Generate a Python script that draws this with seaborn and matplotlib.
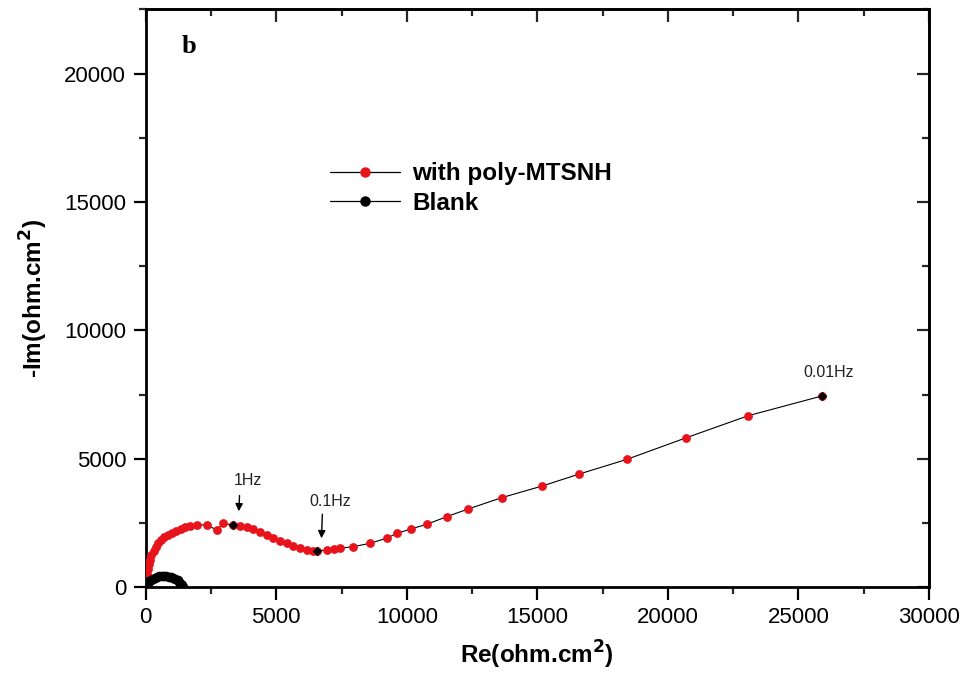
import matplotlib

matplotlib.use("Agg")
import matplotlib.pyplot as plt
import pandas as pd
import seaborn as sns
from matplotlib.lines import Line2D
from matplotlib.ticker import AutoMinorLocator, MultipleLocator

# Nyquist data (ohm.cm2)
poly_re = [20, 40, 70, 110, 160, 220, 300, 390, 490, 600, 720, 860, 1010, 1170,
           1340, 1520, 1700, 1950, 2340, 2720, 2970, 3360, 3620, 3870, 4120,
           4380, 4630, 4890, 5150, 5400, 5650, 5910, 6180, 6400, 6570, 6930,
           7200, 7440, 7950, 8590, 9230, 9620, 10160, 10790, 11530, 12360,
           13640, 15180, 16610, 18430, 20700, 23080, 25910]
poly_im = [300, 500, 700, 900, 1080, 1250, 1420, 1570, 1710, 1830, 1940, 2040,
           2130, 2210, 2280, 2340, 2380, 2420, 2430, 2230, 2490, 2420, 2400,
           2360, 2270, 2160, 2040, 1910, 1800, 1710, 1610, 1520, 1460, 1430,
           1420, 1450, 1480, 1520, 1580, 1710, 1910, 2100, 2270, 2460, 2750,
           3050, 3490, 3940, 4410, 4980, 5820, 6680, 7450]

blank_re = [20, 50, 90, 140, 200, 270, 350, 430, 520, 610, 700, 790, 880, 970,
            1060, 1140, 1220, 1290, 1350, 1400, 1430]
blank_im = [40, 110, 170, 230, 290, 340, 380, 405, 425, 435, 438, 432, 418,
            395, 360, 320, 265, 200, 135, 70, 15]

# frequency markers on the poly-MTSNH curve
freq_labels = ["1Hz", "0.1Hz", "0.01Hz"]
freq_idx = [21, 34, 52]

sns.set_theme(style="ticks")
plt.rcParams["font.family"] = ["Liberation Sans", "DejaVu Sans"]
plt.rcParams["text.color"] = "black"
plt.rcParams["axes.labelcolor"] = "black"

poly = pd.DataFrame({"re": poly_re, "im": poly_im})
blank = pd.DataFrame({"re": blank_re, "im": blank_im})
marks = poly.iloc[freq_idx]

fig = plt.figure(figsize=(9.66, 6.88), dpi=100)
ax = fig.add_axes([0.1508, 0.1464, 0.8109, 0.8401])

sns.lineplot(data=poly, x="re", y="im", sort=False, estimator=None,
             color="black", lw=0.8, ax=ax, zorder=2)
sns.scatterplot(data=poly, x="re", y="im", color="#e8141b", s=40,
                linewidth=0, ax=ax, zorder=3)
sns.scatterplot(data=blank, x="re", y="im", color="black", s=48,
                linewidth=0, ax=ax, zorder=3)
sns.scatterplot(data=marks, x="re", y="im", color="black", marker="D", s=24,
                linewidth=0, ax=ax, zorder=4)

# frequency annotations
ann_kw = dict(ha="center", va="center", fontsize=11.5, color="#222222")
arrow_kw = dict(arrowstyle="-|>", color="black", lw=1, mutation_scale=11)
ax.text(3920, 4140, freq_labels[0], **ann_kw)
ax.annotate("", xy=(3560, 2850), xytext=(3600, 3680), arrowprops=arrow_kw)
ax.text(7060, 3340, freq_labels[1], **ann_kw)
ax.annotate("", xy=(6730, 1800), xytext=(6770, 2950), arrowprops=arrow_kw)
ax.text(26140, 8380, freq_labels[2], **ann_kw)

ax.text(0.055, 0.935, "b", transform=ax.transAxes, ha="center", va="center",
        fontsize=19, fontweight="bold", family="Liberation Serif")

ax.set_xlim(0, 30000)
ax.set_ylim(0, 22500)
ax.xaxis.set_major_locator(MultipleLocator(5000))
ax.yaxis.set_major_locator(MultipleLocator(5000))
ax.xaxis.set_minor_locator(AutoMinorLocator(2))
ax.yaxis.set_minor_locator(AutoMinorLocator(2))

ax.set_xlabel("Re(ohm.cm$^\\mathbf{2}$)", fontsize=17.5, fontweight="bold",
              labelpad=8)
ax.set_ylabel("-Im(ohm.cm$^\\mathbf{2}$)", fontsize=17.5, fontweight="bold",
              labelpad=10)

for s in ax.spines.values():
    s.set_visible(True)
    s.set_linewidth(2)
    s.set_color("black")
ax.tick_params(which="major", direction="out", length=9, width=1.6,
               labelsize=16, pad=5, colors="black")
ax.tick_params(which="minor", direction="out", length=5, width=1.6)

# inward ticks on top and right
top = ax.secondary_xaxis("top")
top.xaxis.set_major_locator(MultipleLocator(5000))
top.xaxis.set_minor_locator(AutoMinorLocator(2))
top.tick_params(which="major", direction="in", length=9, width=1.6,
                labeltop=False)
top.tick_params(which="minor", direction="in", length=5, width=1.6)
top.spines["top"].set_linewidth(2)
right = ax.secondary_yaxis("right")
right.yaxis.set_major_locator(MultipleLocator(5000))
right.yaxis.set_minor_locator(AutoMinorLocator(2))
right.tick_params(which="major", direction="in", length=9, width=1.6,
                  labelright=False)
right.tick_params(which="minor", direction="in", length=5, width=1.6)
right.spines["right"].set_linewidth(2)

handles = [
    Line2D([], [], color="black", lw=0.9, marker="o", markersize=6.5,
           markerfacecolor="#e8141b", markeredgecolor="#e8141b"),
    Line2D([], [], color="black", lw=0.9, marker="o", markersize=6.5,
           markerfacecolor="black", markeredgecolor="black"),
]
ax.legend(handles, ["with poly-MTSNH", "Blank"], loc="center left",
          bbox_to_anchor=(0.235, 0.69), bbox_transform=ax.transAxes,
          frameon=False, borderpad=0, borderaxespad=0, handlelength=2.9,
          handletextpad=0.5, labelspacing=0.25, markerfirst=True,
          prop={"weight": "bold", "size": 17.5})

fig.savefig("out.png", dpi=100)
